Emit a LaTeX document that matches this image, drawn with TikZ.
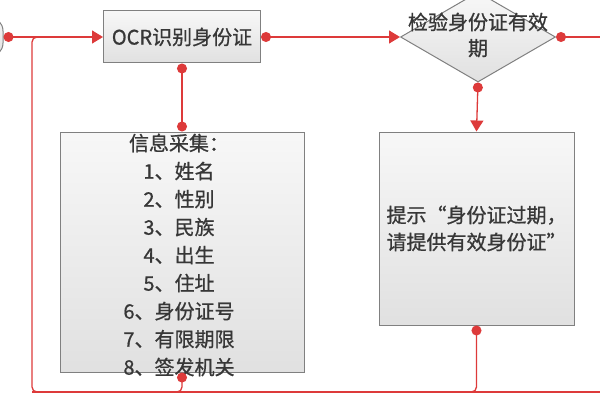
\documentclass[tikz,border=0pt]{standalone}
\usepackage{fontspec}
\setmainfont{Noto Sans CJK SC}[FakeBold=0.8]
\usepackage{tikz}
\usetikzlibrary{arrows.meta}
\usetikzlibrary{shapes.geometric}
\definecolor{flowred}{RGB}{221,58,58}
\definecolor{boxgray}{RGB}{128,128,128}
\definecolor{txtgray}{RGB}{55,55,55}

\begin{document}
\begin{tikzpicture}[x=1pt,y=1pt,semithick,
    box/.style={draw=boxgray,line width=1pt,top color=black!3,bottom color=black!12,inner sep=0pt},
    txt/.style={text=txtgray,font=\fontsize{20}{27}\selectfont},
    flow/.style={flowred,line width=1.3pt},
    ball/.tip={Circle[length=10pt]},
    head/.tip={Triangle[length=11pt,width=13pt]}]
          \useasboundingbox (0,0) rectangle (600,400);
          \node[box,rounded corners=14pt,minimum width=90,minimum height=40] (start) at (-42,363) {};
          \node[box,txt,minimum width=157,minimum height=52] (ocr) at (182,363) {OCR识别身份证};
          \node[box,diamond,minimum width=155,minimum height=90] (check) at (478,363) {};
          \node[txt,align=center,font=\fontsize{20}{26}\selectfont] (checktxt) at ([yshift=2]check.center) {检验身份证有效\\期};
          \node[box,txt,align=left,minimum width=195,minimum height=193] (tip) at (476.5,171.5) {提示“身份证过期，\\请提供有效身份证”};
          \node[box,minimum width=244,minimum height=240] (info) at (182,148) {};
          \node[txt,align=center,font=\fontsize{20}{28}\selectfont] (infotxt) at (179,145)
            {信息采集：\\1、姓名\\2、性别\\3、民族\\4、出生\\5、住址\\6、身份证号\\7、有限期限\\8、签发机关};
          \coordinate (exit) at (600,363);
          \coordinate (back) at (600,8);
          \coordinate (corner) at (32,8);
          \coordinate (merge) at (60,363);
          \draw[flow,ball-head] (start.east) -- (ocr.west);
          \draw[flow,ball-head] (ocr.east) -- (check.west);
          \draw[flow,ball-] (check.east) -- (exit);
          \draw[flow,ball-head] (check.south) -- (tip.north);
          \draw[flow,ball-ball] (ocr.south) -- (info.north);
          \draw[flow,ball-,rounded corners=5pt] (info.south) |- (corner) |- (merge);
          \draw[flow,ball-,rounded corners=5pt] (tip.south) |- (corner);
          \draw[flow] (back) -- (corner);
        \end{tikzpicture}
\end{document}
